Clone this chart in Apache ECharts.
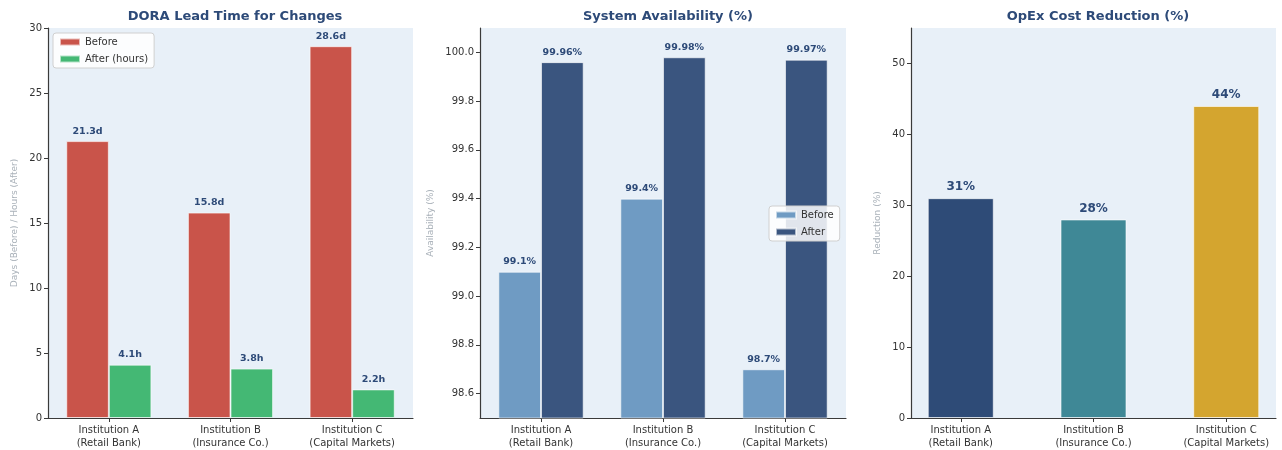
<!DOCTYPE html>
<html>
<head>
<meta charset="utf-8">
<script src="https://cdn.jsdelivr.net/npm/echarts@6/dist/echarts.min.js"></script>
<style>
  html, body { margin: 0; padding: 0; background: #fff; }
  .chart { position: absolute; left: 0; top: 0; width: 1282px; height: 450px; }
</style>
</head>
<body>
<div id="leadChart" class="chart"></div>
<div id="availChart" class="chart"></div>
<div id="opexChart" class="chart"></div>
<script>
const institutions = ['Institution A\n(Retail Bank)', 'Institution B\n(Insurance Co.)', 'Institution C\n(Capital Markets)']

const leadBeforeDays = [21.3, 15.8, 28.6]
const leadAfterHours = [4.1, 3.8, 2.2]

const availBefore = [99.1, 99.4, 98.7]
const availAfter = [99.96, 99.98, 99.97]
const availTicks = [98.6, 98.8, 99.0, 99.2, 99.4, 99.6, 99.8, 100.0]

const opexReduction = [31, 28, 44]
const opexColors = ['#2e4b77', '#3f8896', '#d4a52f']
const opexTicks = [0, 10, 20, 30, 40, 50]

const font = 'DejaVu Sans'
const titleColor = '#2d4a78'
const labelColor = '#2d4a78'
const axisColor = '#3a3a3a'
const panelBg = '#e8f0f8'

function baseTitle(text, centerX) {
  return {
    text,
    left: centerX,
    textAlign: 'center',
    top: 5,
    textStyle: { fontFamily: font, fontSize: 13, fontWeight: 'bold', color: titleColor },
  }
}

function categoryAxis() {
  return {
    type: 'category',
    data: institutions,
    axisLine: { show: true, lineStyle: { color: axisColor, width: 1.2 } },
    axisTick: { show: true, alignWithLabel: true, length: 4, lineStyle: { color: axisColor } },
    axisLabel: { fontFamily: font, fontSize: 10, color: '#333', lineHeight: 13, margin: 6 },
  }
}

function valueAxisStyle(name, gap) {
  return {
    name,
    nameLocation: 'middle',
    nameGap: gap,
    nameTextStyle: { fontFamily: font, fontSize: 9, color: '#a9b1b9' },
    axisLine: { show: true, onZero: false, lineStyle: { color: axisColor, width: 1.2 } },
    axisTick: { show: true, length: 4, lineStyle: { color: axisColor } },
    splitLine: { show: false },
  }
}

function legendStyle(left, top) {
  return {
    left, top,
    orient: 'vertical',
    icon: 'rect',
    itemWidth: 20, itemHeight: 7, itemGap: 7,
    padding: [4, 6],
    backgroundColor: 'rgba(255,255,255,0.85)',
    borderColor: '#d0d0d0', borderWidth: 1, borderRadius: 3,
    textStyle: { fontFamily: font, fontSize: 10, color: '#333' },
  }
}

function barLabel(fmt, size) {
  return {
    show: true,
    position: 'top',
    distance: 5,
    formatter: fmt,
    fontFamily: font,
    fontSize: size,
    fontWeight: 'bold',
    color: labelColor,
  }
}

const edge = { borderColor: 'rgba(255,255,255,0.6)', borderWidth: 1 }

// panel 1
const leadChart = echarts.init(document.getElementById('leadChart'))
leadChart.setOption({
  animation: false,
  title: baseTitle('DORA Lead Time for Changes', 230),
  legend: { ...legendStyle(53, 33), data: ['Before', 'After (hours)'] },
  grid: { left: 48, top: 28, width: 365, height: 390, show: true, backgroundColor: panelBg, borderWidth: 0 },
  xAxis: categoryAxis(),
  yAxis: {
    type: 'value', min: 0, max: 30, interval: 5,
    ...valueAxisStyle('Days (Before) / Hours (After)', 29),
    axisLabel: { fontFamily: font, fontSize: 10, color: '#333', margin: 6 },
  },
  series: [
    {
      name: 'Before', type: 'bar', data: leadBeforeDays, barWidth: '35%', barGap: '0%',
      itemStyle: { color: '#c9544a', ...edge },
      label: barLabel((p) => p.value + 'd', 9.5),
    },
    {
      name: 'After (hours)', type: 'bar', data: leadAfterHours, barWidth: '35%',
      itemStyle: { color: '#44b874', ...edge },
      label: barLabel((p) => p.value + 'h', 9.5),
    },
  ],
})

// panel 2
const availChart = echarts.init(document.getElementById('availChart'))
availChart.setOption({
  animation: false,
  title: baseTitle('System Availability (%)', 663),
  legend: { ...legendStyle(769, 206), data: ['Before', 'After'] },
  grid: { left: 480, top: 28, width: 366, height: 390, show: true, backgroundColor: panelBg, borderWidth: 0 },
  xAxis: categoryAxis(),
  yAxis: {
    type: 'value', min: 98.5, max: 100.1,
    ...valueAxisStyle('Availability (%)', 45),
    axisTick: { show: true, length: 4, lineStyle: { color: axisColor }, customValues: availTicks },
    axisLabel: {
      fontFamily: font, fontSize: 10, color: '#333', margin: 6,
      customValues: availTicks,
      formatter: (v) => v.toFixed(1),
    },
  },
  series: [
    {
      name: 'Before', type: 'bar', data: availBefore, barWidth: '35%', barGap: '0%',
      itemStyle: { color: '#6f9bc3', ...edge },
      label: barLabel((p) => p.value + '%', 9.5),
    },
    {
      name: 'After', type: 'bar', data: availAfter, barWidth: '35%',
      itemStyle: { color: '#3a557f', ...edge },
      label: barLabel((p) => p.value + '%', 9.5),
    },
  ],
})

// panel 3
const opexChart = echarts.init(document.getElementById('opexChart'))
opexChart.setOption({
  animation: false,
  title: baseTitle('OpEx Cost Reduction (%)', 1093),
  grid: { left: 911, top: 28, width: 365, height: 390, show: true, backgroundColor: panelBg, borderWidth: 0 },
  xAxis: {
    type: 'value', min: -0.375, max: 2.375,
    splitLine: { show: false },
    axisLine: { show: true, onZero: false, lineStyle: { color: axisColor, width: 1.2 } },
    axisTick: { show: true, length: 4, lineStyle: { color: axisColor }, customValues: [0, 1, 2] },
    axisLabel: {
      fontFamily: font, fontSize: 10, color: '#333', lineHeight: 13, margin: 6,
      customValues: [0, 1, 2],
      formatter: (v) => institutions[Math.round(v)],
    },
  },
  yAxis: {
    type: 'value', min: 0, max: 55,
    ...valueAxisStyle('Reduction (%)', 29),
    axisTick: { show: true, length: 4, lineStyle: { color: axisColor }, customValues: opexTicks },
    axisLabel: { fontFamily: font, fontSize: 10, color: '#333', margin: 6, customValues: opexTicks },
  },
  series: [
    {
      name: 'Reduction', type: 'bar', barWidth: 66,
      data: opexReduction.map((v, i) => ({ value: [i, v], itemStyle: { color: opexColors[i], ...edge } })),
      label: barLabel((p) => p.value[1] + '%', 12),
    },
  ],
})
</script>
</body>
</html>
